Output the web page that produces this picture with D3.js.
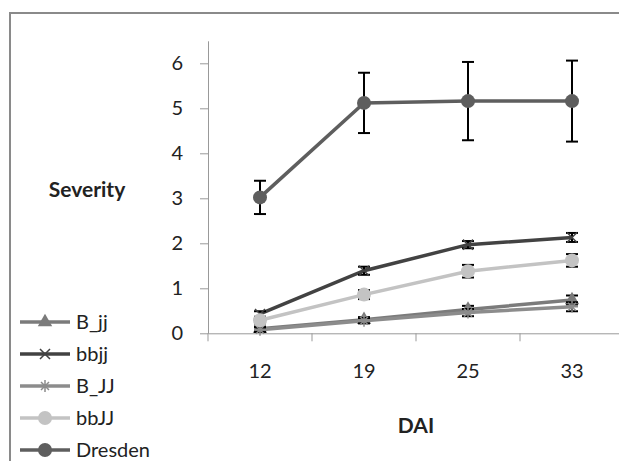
<!DOCTYPE html>
<html>
<script src='https://cdn.jsdelivr.net/npm/d3@7'></script>
<style>
body { margin: 0; background: white; }
text { font-family: Lato, 'Open Sans', sans-serif; }
</style>
<body>
<svg width=619 height=461></svg>
<script>
// chart values
var days = ["12", "19", "25", "33"];
var seriesNames = ["B_jj", "bbjj", "B_JJ", "bbJJ", "Dresden"];
var B_jj    = [0.10, 0.30, 0.53, 0.74];
var bbjj    = [0.43, 1.39, 1.97, 2.13];
var B_JJ    = [0.08, 0.28, 0.46, 0.59];
var bbJJ    = [0.29, 0.86, 1.38, 1.62];
var Dresden = [3.02, 5.12, 5.16, 5.16];
var B_jjErr    = [0.05, 0.06, 0.08, 0.10];
var bbjjErr    = [0.06, 0.09, 0.08, 0.10];
var B_JJErr    = [0.05, 0.06, 0.08, 0.10];
var bbJJErr    = [0.07, 0.10, 0.14, 0.14];
var DresdenErr = [0.37, 0.67, 0.87, 0.90];
var yTicks = [0, 1, 2, 3, 4, 5, 6];

var series = [
  {name: seriesNames[0], values: B_jj, err: B_jjErr, color: "#7b7b7b", marker: "triangle"},
  {name: seriesNames[1], values: bbjj, err: bbjjErr, color: "#424242", marker: "x"},
  {name: seriesNames[2], values: B_JJ, err: B_JJErr, color: "#8c8c8c", marker: "star"},
  {name: seriesNames[3], values: bbJJ, err: bbJJErr, color: "#c3c3c3", marker: "circle"},
  {name: seriesNames[4], values: Dresden, err: DresdenErr, color: "#5e5e5e", marker: "circle"}
];

var svg = d3.select("svg");

// outer chart frame
svg.append("rect")
  .attr("x", 10).attr("y", 13)
  .attr("width", 640).attr("height", 480)
  .attr("fill", "none")
  .attr("stroke", "#8a8a8a")
  .attr("stroke-width", 2);

var x = d3.scaleBand().domain(days).range([208, 624]);
var y = d3.scaleLinear().domain([0, 6.5]).range([333.3, 40.8]);

// y axis
var yAxis = svg.append("g")
  .attr("transform", "translate(208,0)")
  .call(d3.axisLeft(y).tickValues(yTicks).tickFormat(d3.format("d"))
    .tickSize(8).tickPadding(17).tickSizeOuter(0));
yAxis.select(".domain").attr("stroke", "#999");
yAxis.selectAll(".tick line").attr("stroke", "#999");
yAxis.selectAll("text").attr("font-size", "20px").attr("fill", "#222");

// x axis
var xAxis = svg.append("g")
  .attr("transform", "translate(0,333.3)")
  .call(d3.axisBottom(x).tickSize(0).tickPadding(31));
xAxis.select(".domain").attr("stroke", "#999");
xAxis.selectAll("text").attr("font-size", "20px").attr("fill", "#222");
// tick marks sit between categories
xAxis.selectAll(".sep").data(days).enter().append("line")
  .attr("x1", d => x(d)).attr("x2", d => x(d))
  .attr("y1", 0).attr("y2", 8)
  .attr("stroke", "#999");

// axis titles
svg.append("text")
  .attr("x", 87).attr("y", 197)
  .attr("text-anchor", "middle")
  .attr("font-weight", 700)
  .attr("font-size", "21px")
  .attr("fill", "#222")
  .text("Severity");

svg.append("text")
  .attr("x", 416).attr("y", 433)
  .attr("text-anchor", "middle")
  .attr("font-weight", 700)
  .attr("font-size", "21px")
  .attr("fill", "#222")
  .text("DAI");

var cx = d => x(d) + x.bandwidth() / 2;

function drawMarker(g, type, color) {
  if (type == "circle") {
    g.append("circle").attr("r", 7).attr("fill", color);
  } else if (type == "triangle") {
    g.append("path").attr("d", d3.symbol(d3.symbolTriangle, 90)()).attr("fill", color);
  } else if (type == "x") {
    g.append("path").attr("d", "M-5,-5L5,5M-5,5L5,-5").attr("stroke", color).attr("stroke-width", 1.5);
  } else {
    g.append("path").attr("d", "M-6,0L6,0M0,-6L0,6M-4,-4L4,4M-4,4L4,-4").attr("stroke", color).attr("stroke-width", 1.5);
  }
}

var line = d3.line().x(d => cx(d.day)).y(d => y(d.v));

// draw each series in legend order so Dresden ends up on top
series.forEach(function(s) {
  var pts = days.map((d, i) => ({day: d, v: s.values[i], e: s.err[i]}));
  var g = svg.append("g");

  g.append("path")
    .datum(pts)
    .attr("d", line)
    .attr("fill", "none")
    .attr("stroke", s.color)
    .attr("stroke-width", 3.5);

  // error bars
  var eb = g.selectAll(".eb").data(pts).enter().append("g");
  eb.append("line")
    .attr("x1", d => cx(d.day)).attr("x2", d => cx(d.day))
    .attr("y1", d => y(d.v - d.e)).attr("y2", d => y(d.v + d.e))
    .attr("stroke", "black").attr("stroke-width", 2);
  eb.selectAll(".cap").data(d => [d.v - d.e, d.v + d.e].map(v => ({day: d.day, v: v})))
    .enter().append("line")
    .attr("x1", d => cx(d.day) - 6).attr("x2", d => cx(d.day) + 6)
    .attr("y1", d => y(d.v)).attr("y2", d => y(d.v))
    .attr("stroke", "black").attr("stroke-width", 2);

  pts.forEach(function(p) {
    var m = g.append("g").attr("transform", "translate(" + cx(p.day) + "," + y(p.v) + ")");
    drawMarker(m, s.marker, s.color);
  });
});

// legend
var leg = svg.append("g");
series.forEach(function(s, i) {
  var ly = 322 + i * 32;
  leg.append("line")
    .attr("x1", 20).attr("x2", 70)
    .attr("y1", ly).attr("y2", ly)
    .attr("stroke", s.color).attr("stroke-width", 3.5);
  var m = leg.append("g").attr("transform", "translate(45," + ly + ")");
  drawMarker(m, s.marker, s.color);
  leg.append("text")
    .attr("x", 76).attr("y", ly + 7)
    .attr("font-size", "20px")
    .attr("fill", "#222")
    .text(s.name);
});
</script>
</body>
</html>
